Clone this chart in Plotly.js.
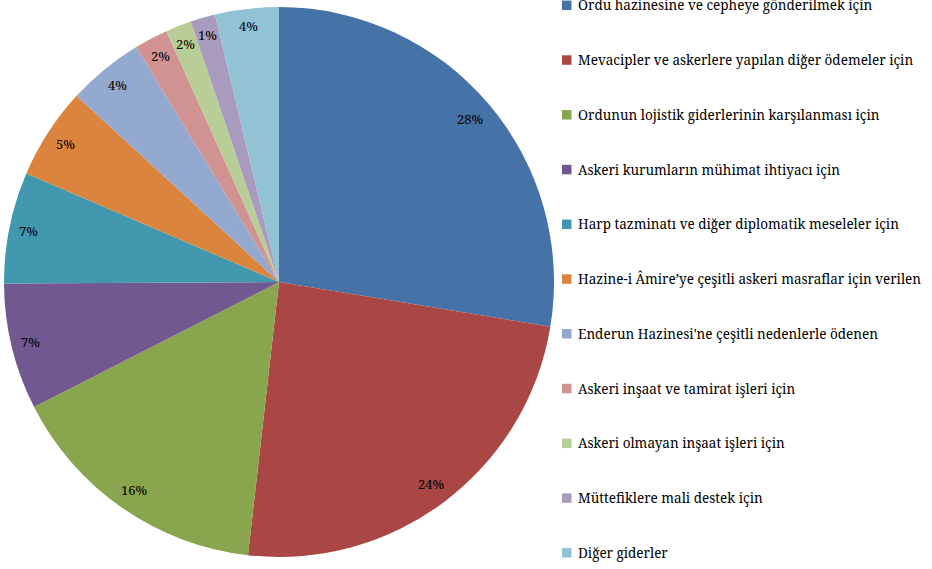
<!DOCTYPE html>
<html>
<head>
<meta charset="utf-8">
<script src="https://cdn.plot.ly/plotly-3.0.1.min.js"></script>
<style>
html,body{margin:0;padding:0;background:#ffffff;}
#chart{width:932px;height:569px;}
</style>
</head>
<body>
<div id="chart"></div>
<script>
// ---- data ----
const categories = [
  "Ordu hazinesine ve cepheye gönderilmek için",
  "Mevacipler ve askerlere yapılan diğer ödemeler için",
  "Ordunun lojistik giderlerinin karşılanması için",
  "Askeri kurumların mühimat ihtiyacı için",
  "Harp tazminatı ve diğer diplomatik meseleler için",
  "Hazine-i Âmire’ye çeşitli askeri masraflar için verilen",
  "Enderun Hazinesi'ne çeşitli nedenlerle ödenen",
  "Askeri inşaat ve tamirat işleri için",
  "Askeri olmayan inşaat işleri için",
  "Müttefiklere mali destek için",
  "Diğer giderler"
];
const values = [27.61, 24.21, 15.70, 7.42, 6.55, 5.38, 4.48, 1.97, 1.52, 1.46, 3.74];
const colors = ["#4572A7", "#AA4643", "#89A54E", "#71588F", "#4198AF", "#DB843D",
                "#93A9CF", "#D19392", "#B9CD96", "#A99BBD", "#92C3D5"];

// ---- layout geometry ----
const W = 932, H = 569;
const cx = 279, cy = 282, R = 275;
const FONT = "Noto Serif";

const total = values.reduce((a, b) => a + b, 0);

// percentage labels near the outer edge of each slice
const annotations = [];
let cum = 0;
values.forEach((v, i) => {
  const th = (cum + v / 2) / total * 2 * Math.PI;
  cum += v;
  const txt = Math.round(v / total * 100) + "%";
  const w = 7 * (txt.length - 1) + 11.7, h = 14;
  const ext = (w / 2) * Math.abs(Math.sin(th)) + (h / 2) * Math.abs(Math.cos(th));
  const d = R - 9 - ext;
  const px = cx + d * Math.sin(th);
  const py = cy - d * Math.cos(th);
  annotations.push({
    x: px / W, y: (H - py) / H, xref: "paper", yref: "paper",
    text: txt, showarrow: false, xanchor: "center", yanchor: "middle",
    font: {family: FONT, size: 13, color: "#000000", weight: 400}
  });
});

// legend built from categories & colors
const shapes = [];
const legTop = 5.3, legStep = 54.75, sqX0 = 562, sqSize = 9.5, txtX = 576;
categories.forEach((c, i) => {
  const yc = legTop + i * legStep;
  shapes.push({
    type: "rect", xref: "paper", yref: "paper",
    x0: sqX0 / W, x1: (sqX0 + sqSize) / W,
    y0: (H - yc - sqSize / 2) / H, y1: (H - yc + sqSize / 2) / H,
    fillcolor: colors[i], line: {width: 0}
  });
  annotations.push({
    x: txtX / W, y: (H - yc) / H, xref: "paper", yref: "paper",
    text: c, showarrow: false, xanchor: "left", yanchor: "middle",
    font: {family: FONT, size: 13.5, color: "#000000", weight: 400}
  });
});

const trace = {
  type: "pie",
  labels: categories,
  values: values,
  sort: false,
  direction: "clockwise",
  rotation: 0,
  marker: {colors: colors, line: {width: 0}},
  textinfo: "none",
  hoverinfo: "none",
  showlegend: false,
  domain: {x: [(cx - R) / W, (cx + R) / W], y: [(H - cy - R) / H, (H - cy + R) / H]}
};

const layout = {
  width: W, height: H,
  margin: {l: 0, r: 0, t: 0, b: 0},
  paper_bgcolor: "#ffffff",
  plot_bgcolor: "#ffffff",
  showlegend: false,
  annotations: annotations,
  shapes: shapes,
  font: {family: FONT}
};

Plotly.newPlot("chart", [trace], layout, {displayModeBar: false, staticPlot: true});
</script>
</body>
</html>
